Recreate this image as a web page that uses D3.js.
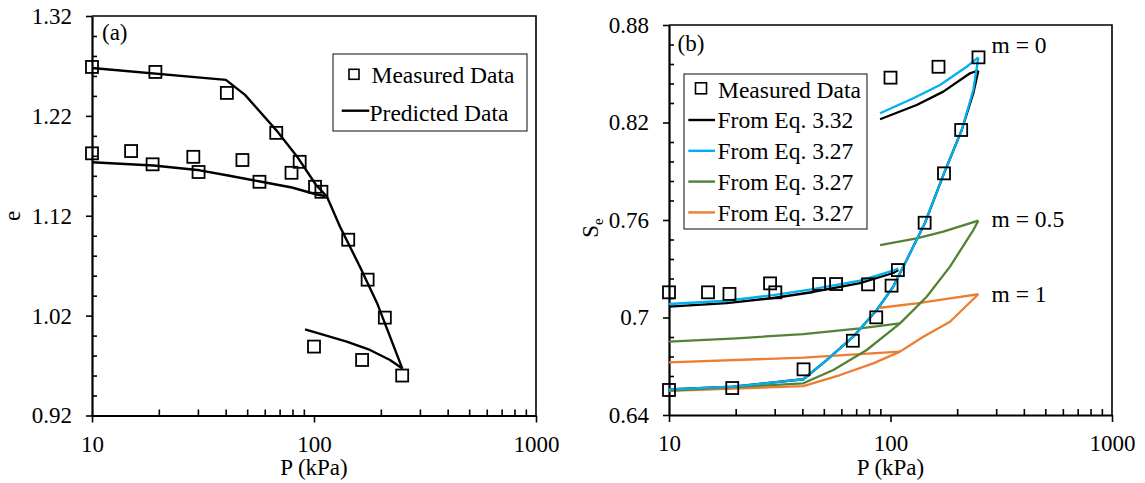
<!DOCTYPE html>
<html>
<head>
<meta charset="utf-8">
<script src="https://cdn.jsdelivr.net/npm/d3@7"></script>
<style>
  body { margin: 0; background: #fff; }
  svg text { font-family: "Liberation Serif", "Times New Roman", serif; fill: #000; }
</style>
</head>
<body>
<svg id="chart" width="1145" height="483"></svg>
<script>
// ---------- axis ticks ----------
const pressureTicks = [10, 100, 1000];
const pressureMinor = [20, 30, 40, 50, 60, 70, 80, 90, 200, 300, 400, 500, 600, 700, 800, 900];
const eTicks = [0.92, 1.02, 1.12, 1.22, 1.32];
const sTicks = [0.64, 0.70, 0.76, 0.82, 0.88];

// ---------- measured data (kPa, void ratio, degree of saturation) ----------
const loadP   = [10, 19.3, 40.5, 67.6, 86.2, 108, 142.6, 174.4, 208.5, 249.6];
const loadE   = [1.269, 1.264, 1.243, 1.203, 1.174, 1.144, 1.096, 1.056, 1.018, 0.960];
const loadS   = [0.6554, 0.6566, 0.6681, 0.6857, 0.7001, 0.7292, 0.7583, 0.7887, 0.8154, 0.8601];
const unloadP = [164.7, 100];
const unloadE = [0.9756, 0.989];
const unloadS = [0.8543, 0.8476];
const reloadP = [10, 15, 18.75, 28.6, 30.2, 47.6, 56.8, 79.2, 101.1];
const reloadE = [1.1825, 1.1848, 1.1715, 1.179, 1.1638, 1.1758, 1.154, 1.163, 1.149];
const reloadS = [0.7155, 0.7155, 0.7145, 0.721, 0.7155, 0.7206, 0.7206, 0.7204, 0.7196];

// ---------- predicted void ratio ----------
const predLoadP   = [10, 40.1, 48.9, 67.4, 84.7, 102, 114.4, 131, 161, 192, 220, 250];
const predLoadE   = [1.268, 1.256, 1.241, 1.206, 1.178, 1.151, 1.139, 1.109, 1.069, 1.033, 0.999, 0.967];
const predUnloadP = [250, 220, 178.7, 140.4, 91.1];
const predUnloadE = [0.967, 0.9756, 0.9856, 0.9939, 1.0063];
const predReloadP = [10, 18.9, 30.6, 41, 57.1, 79.5, 102.8, 112];
const predReloadE = [1.1735, 1.1703, 1.1655, 1.1603, 1.1543, 1.1483, 1.1413, 1.1398];

// ---------- degree of saturation, Eq. 3.32 ----------
const eq332LoadP   = [10, 19.5, 40.4, 51.5, 67.9, 86.7, 102.9, 118.3, 143.2, 174.4, 209.7, 236.5, 249.2];
const eq332LoadS   = [0.6558, 0.6574, 0.662, 0.6738, 0.6882, 0.7046, 0.719, 0.7354, 0.7583, 0.7887, 0.8154, 0.838, 0.8519];
const eq332UnloadP = [249.2, 228.6, 173.1, 131.3, 89.7];
const eq332UnloadS = [0.8519, 0.8503, 0.839, 0.8308, 0.822];
const eq332ReloadP = [10, 18.2, 29.6, 44.8, 72.8, 102.9, 108.5];
const eq332ReloadS = [0.7067, 0.7089, 0.712, 0.7157, 0.7211, 0.7274, 0.7292];

// ---------- degree of saturation, Eq. 3.27, m = 0 ----------
const m0LoadP   = [10, 19.5, 40.4, 51.5, 67.9, 86.7, 102.9, 118.3, 143.2, 174.4, 209.7, 236.5, 249.2];
const m0LoadS   = [0.6558, 0.6574, 0.662, 0.6738, 0.6882, 0.7046, 0.719, 0.7354, 0.7583, 0.7887, 0.8154, 0.84, 0.8601];
const m0UnloadP = [249.2, 220.8, 167.3, 126.8, 89.7];
const m0UnloadS = [0.8601, 0.8543, 0.8431, 0.8349, 0.8257];
const m0ReloadP = [10, 18.2, 29.6, 44.8, 72.8, 102.9, 108.5];
const m0ReloadS = [0.7083, 0.7103, 0.7138, 0.7174, 0.7227, 0.7288, 0.7303];

// ---------- degree of saturation, Eq. 3.27, m = 0.5 ----------
const m05LoadP   = [10, 40.4, 55.2, 78.1, 110.4, 145.7, 185.6, 236.5, 249.2];
const m05LoadS   = [0.655, 0.6595, 0.6677, 0.68, 0.6964, 0.7128, 0.7313, 0.7538, 0.7596];
const m05UnloadP = [249.2, 173.1, 131.3, 89.7];
const m05UnloadS = [0.7596, 0.7528, 0.7487, 0.7446];
const m05ReloadP = [10, 20.2, 40.4, 72.8, 110.4];
const m05ReloadS = [0.6851, 0.6872, 0.6898, 0.6933, 0.6964];

// ---------- degree of saturation, Eq. 3.27, m = 1 ----------
const m1LoadP   = [10, 40.4, 59.2, 83.6, 110.4, 140.6, 185.6, 249.2];
const m1LoadS   = [0.6548, 0.6578, 0.6646, 0.6718, 0.679, 0.6882, 0.6974, 0.7143];
const m1UnloadP = [249.2, 185.6, 131.3, 89.7];
const m1UnloadS = [0.7143, 0.7118, 0.7087, 0.706];
const m1ReloadP = [10, 40.4, 110.4];
const m1ReloadS = [0.6724, 0.6753, 0.679];

const zip = (a, b) => a.map((v, i) => [v, b[i]]);
const svg = d3.select("#chart");
const FONT = 23;

function panel(cfg) {
  const g = svg.append("g");
  const x = d3.scaleLog().domain([10, 1000]).range([cfg.left, cfg.right]);
  const y = d3.scaleLinear().domain([cfg.yTicks[0], cfg.yTicks[cfg.yTicks.length - 1]]).range([cfg.bottom, cfg.top]);

  // plot frame (top and right edges)
  g.append("path")
    .attr("d", `M${cfg.left},${cfg.top}H${cfg.right}V${cfg.bottom}`)
    .attr("fill", "none").attr("stroke", "#000").attr("stroke-width", 1.6);

  // x axis: major ticks outward with labels, minor ticks inward
  const xa = g.append("g").attr("transform", `translate(0,${cfg.bottom})`)
    .call(d3.axisBottom(x).tickValues(pressureTicks).tickSize(7).tickSizeOuter(0).tickPadding(13)
      .tickFormat(d => String(d)));
  xa.select(".domain").attr("stroke-width", 2.2);
  g.append("g").attr("transform", `translate(0,${cfg.bottom})`)
    .call(d3.axisBottom(x).tickValues(pressureMinor).tickSize(-6).tickFormat(""))
    .call(a => a.select(".domain").remove());

  // y axis
  const ya = g.append("g").attr("transform", `translate(${cfg.left},0)`)
    .call(d3.axisLeft(y).tickValues(cfg.yTicks).tickSize(6).tickSizeOuter(0).tickPadding(14)
      .tickFormat(d => String(+d.toFixed(2))));
  ya.select(".domain").attr("stroke-width", 2.2);
  const step = (cfg.yTicks[1] - cfg.yTicks[0]) / 5;
  const yMinor = d3.range(cfg.yTicks[0], cfg.yTicks[cfg.yTicks.length - 1], step)
    .filter((v, i) => i % 5 !== 0);
  g.append("g").attr("transform", `translate(${cfg.left},0)`)
    .call(d3.axisLeft(y).tickValues(yMinor).tickSize(-5).tickFormat(""))
    .call(a => a.select(".domain").remove());

  g.selectAll(".tick line").attr("stroke-width", 1.6);
  g.selectAll(".tick text")
    .style("font-family", '"Liberation Serif", "Times New Roman", serif')
    .style("font-size", FONT + "px").attr("fill", "#000");

  // x axis title
  g.append("text").attr("x", (cfg.left + cfg.right) / 2).attr("y", 475)
    .attr("text-anchor", "middle").style("font-size", FONT + "px").text("P (kPa)");

  // panel tag
  g.append("text").attr("x", cfg.tagX).attr("y", cfg.tagY)
    .style("font-size", FONT + "px").text(cfg.tag);

  return { g, x, y };
}

const line = (x, y) => d3.line().x(d => x(d[0])).y(d => y(d[1]));

function drawSquares(g, x, y, pts, size) {
  g.selectAll(null).data(pts).enter().append("rect")
    .attr("x", d => x(d[0]) - size / 2).attr("y", d => y(d[1]) - size / 2)
    .attr("width", size).attr("height", size)
    .attr("fill", "none").attr("stroke", "#000").attr("stroke-width", 1.8);
}

// ================= panel (a): void ratio =================
{
  const { g, x, y } = panel({ left: 92, right: 536, top: 16, bottom: 415.5, yTicks: eTicks,
    tag: "(a)", tagX: 102, tagY: 40 });

  g.append("text").attr("transform", "translate(20,216) rotate(-90)")
    .attr("text-anchor", "middle").style("font-size", FONT + "px").text("e");

  const l = line(x, y);
  [zip(predLoadP, predLoadE), zip(predUnloadP, predUnloadE), zip(predReloadP, predReloadE)]
    .forEach(seg => g.append("path").attr("d", l(seg)).attr("fill", "none")
      .attr("stroke", "#000").attr("stroke-width", 2.4).attr("stroke-linejoin", "round"));

  drawSquares(g, x, y, [...zip(loadP, loadE), ...zip(unloadP, unloadE), ...zip(reloadP, reloadE)], 12);

  // legend
  const lg = g.append("g");
  lg.append("rect").attr("x", 333).attr("y", 54).attr("width", 194).attr("height", 77)
    .attr("fill", "#fff").attr("stroke", "#333").attr("stroke-width", 1.2);
  lg.append("rect").attr("x", 349).attr("y", 69.3).attr("width", 10).attr("height", 10)
    .attr("fill", "none").attr("stroke", "#000").attr("stroke-width", 1.6);
  lg.append("text").attr("x", 371.5).attr("y", 82.7).style("font-size", "23.5px").text("Measured Data");
  lg.append("line").attr("x1", 341.7).attr("x2", 369.3).attr("y1", 110.7).attr("y2", 110.7)
    .attr("stroke", "#000").attr("stroke-width", 2.4);
  lg.append("text").attr("x", 369.5).attr("y", 121).style("font-size", "23.5px").text("Predicted Data");
}

// ================= panel (b): degree of saturation =================
{
  const { g, x, y } = panel({ left: 669, right: 1112, top: 25, bottom: 415, yTicks: sTicks,
    tag: "(b)", tagX: 677.5, tagY: 51 });

  // rotated axis title S with subscript e
  const yl = g.append("text").attr("transform", "translate(598,228) rotate(-90)")
    .attr("text-anchor", "middle").style("font-size", FONT + "px");
  yl.append("tspan").text("S");
  yl.append("tspan").attr("dy", 5).style("font-size", "15px").text("e");

  const l = line(x, y);
  const series = [
    { color: "#000000", segs: [zip(eq332LoadP, eq332LoadS), zip(eq332UnloadP, eq332UnloadS), zip(eq332ReloadP, eq332ReloadS)] },
    { color: "#ED7D31", segs: [zip(m1LoadP, m1LoadS), zip(m1UnloadP, m1UnloadS), zip(m1ReloadP, m1ReloadS)] },
    { color: "#548235", segs: [zip(m05LoadP, m05LoadS), zip(m05UnloadP, m05UnloadS), zip(m05ReloadP, m05ReloadS)] },
    { color: "#00B0F0", segs: [zip(m0LoadP, m0LoadS), zip(m0UnloadP, m0UnloadS), zip(m0ReloadP, m0ReloadS)] }
  ];
  series.forEach(s => s.segs.forEach(seg =>
    g.append("path").attr("d", l(seg)).attr("fill", "none").attr("stroke", s.color)
      .attr("stroke-width", 2.3).attr("stroke-linejoin", "round")));

  drawSquares(g, x, y, [...zip(loadP, loadS), ...zip(unloadP, unloadS), ...zip(reloadP, reloadS)], 12);

  // curve labels
  [["m = 0", 53], ["m = 0.5", 226.5], ["m = 1", 302]].forEach(([t, yy]) =>
    g.append("text").attr("x", 991.5).attr("y", yy).style("font-size", "23.5px").text(t));

  // legend
  const lg = g.append("g");
  lg.append("rect").attr("x", 684).attr("y", 74).attr("width", 183).attr("height", 155)
    .attr("fill", "#fff").attr("stroke", "#333").attr("stroke-width", 1.2);
  lg.append("rect").attr("x", 695.5).attr("y", 82.8).attr("width", 11).attr("height", 11)
    .attr("fill", "none").attr("stroke", "#000").attr("stroke-width", 1.6);
  lg.append("text").attr("x", 718).attr("y", 97.5).style("font-size", "23.5px").text("Measured Data");
  const items = [["#000000", "From Eq. 3.32"], ["#00B0F0", "From Eq. 3.27"],
                 ["#548235", "From Eq. 3.27"], ["#ED7D31", "From Eq. 3.27"]];
  items.forEach(([c, t], i) => {
    const yy = 120 + i * 30.8;
    lg.append("line").attr("x1", 688.3).attr("x2", 715).attr("y1", yy).attr("y2", yy)
      .attr("stroke", c).attr("stroke-width", 2.4);
    lg.append("text").attr("x", 717.5).attr("y", yy + 8.3).style("font-size", "23.5px").text(t);
  });
}
</script>
</body>
</html>
